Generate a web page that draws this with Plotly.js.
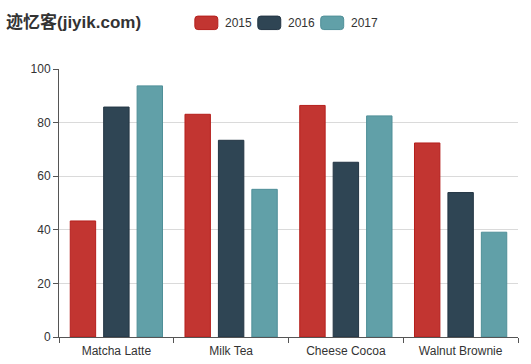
<!DOCTYPE html>
<html>
<head>
<meta charset="utf-8">
<script src="https://cdn.plot.ly/plotly-3.0.1.min.js"></script>
<style>html,body{margin:0;padding:0;background:#fff;}#chart{width:531px;height:364px;}</style>
</head>
<body>
<div id="chart"></div>
<script>
const categories = ["Matcha Latte", "Milk Tea", "Cheese Cocoa", "Walnut Brownie"];
const seriesNames = ["2015", "2016", "2017"];
const values2015 = [43.3, 83.1, 86.4, 72.4];
const values2016 = [85.8, 73.4, 65.2, 53.9];
const values2017 = [93.7, 55.1, 82.5, 39.1];
const yTicks = [0, 20, 40, 60, 80, 100];
const titleText = "迹忆客(jiyik.com)";

const colors = ["#c23531", "#2f4554", "#61a0a8"];
const borders = ["#b51f1c", "#233544", "#4f8f98"];
const seriesValues = [values2015, values2016, values2017];

const W = 531, H = 364;
const m = {l: 59, r: 12.5, t: 69, b: 26.5};
const pw = W - m.l - m.r, ph = H - m.t - m.b;
const fx = px => (px - m.l) / pw;
const fy = py => (H - m.b - py) / ph;

const traces = seriesNames.map((name, i) => ({
  type: "bar",
  name: name,
  x: categories,
  y: seriesValues[i],
  marker: {color: colors[i], line: {color: borders[i], width: 1}},
  showlegend: false,
  hoverinfo: "none"
}));

// custom legend (rounded boxes + labels)
const legendBoxX = [195, 258, 321];
const shapes = [];
const annotations = [];
seriesNames.forEach((name, i) => {
  const x0 = legendBoxX[i], x1 = x0 + 23, y0 = 16, y1 = 29.5, r = 3;
  const P = (px, py) => fx(px) + "," + fy(py);
  const path = "M" + P(x0 + r, y0) + " L" + P(x1 - r, y0) + " Q" + P(x1, y0) + " " + P(x1, y0 + r) +
    " L" + P(x1, y1 - r) + " Q" + P(x1, y1) + " " + P(x1 - r, y1) +
    " L" + P(x0 + r, y1) + " Q" + P(x0, y1) + " " + P(x0, y1 - r) +
    " L" + P(x0, y0 + r) + " Q" + P(x0, y0) + " " + P(x0 + r, y0) + " Z";
  shapes.push({type: "path", xref: "paper", yref: "paper", path: path,
    fillcolor: colors[i], line: {color: borders[i], width: 1}});
  annotations.push({xref: "paper", yref: "paper", x: fx(x1 + 5), y: fy(23),
    xanchor: "left", yanchor: "middle", showarrow: false, text: name,
    font: {family: "Liberation Sans, Arial, sans-serif", size: 12, color: "#333"}});
});

const layout = {
  width: W, height: H,
  margin: m,
  paper_bgcolor: "#fff", plot_bgcolor: "#fff",
  barmode: "group",
  bargap: 0.126,
  bargroupgap: 0.24,
  title: {
    text: "<b>" + titleText + "</b>",
    x: 6 / W, xanchor: "left", xref: "container",
    y: 1 - 22 / H, yanchor: "middle", yref: "container",
    font: {family: "Liberation Sans, Noto Sans CJK SC, sans-serif", size: 17, color: "#333"}
  },
  xaxis: {
    type: "category",
    showline: true, linecolor: "#555", linewidth: 1,
    ticks: "outside", tickson: "boundaries", ticklen: 5, tickcolor: "#555",
    ticklabelstandoff: 3,
    showgrid: false, zeroline: false,
    tickfont: {family: "Liberation Sans, Arial, sans-serif", size: 12, color: "#333"},
    fixedrange: true
  },
  yaxis: {
    range: [0, 100], tickvals: yTicks,
    showline: true, linecolor: "#555", linewidth: 1,
    ticks: "outside", ticklen: 5, tickcolor: "#555",
    showgrid: true, gridcolor: "#dadada", gridwidth: 1,
    zeroline: false,
    tickfont: {family: "Liberation Sans, Arial, sans-serif", size: 12, color: "#333"},
    fixedrange: true
  },
  shapes: shapes,
  annotations: annotations
};

Plotly.newPlot("chart", traces, layout, {displayModeBar: false, staticPlot: true});
</script>
</body>
</html>
